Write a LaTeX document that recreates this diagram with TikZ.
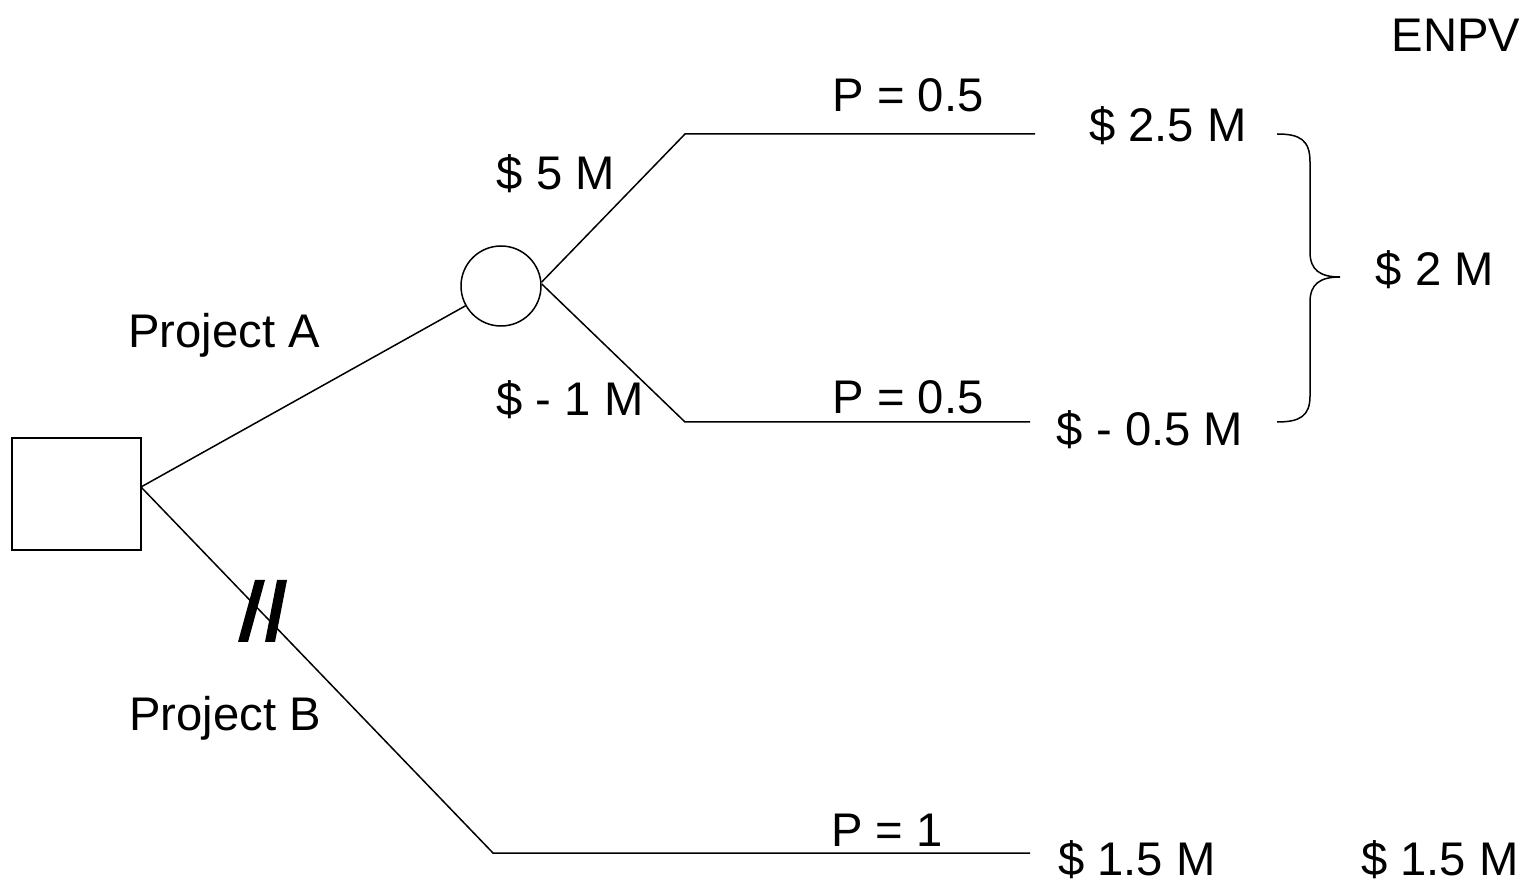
\documentclass[tikz,border=0pt]{standalone}
\usepackage{fontspec}
\setmainfont{Liberation Sans}
\begin{document}
\begin{tikzpicture}[x=0.5pt,y=-0.5pt,
  lbl/.style={inner sep=0pt,anchor=center,font=\fontsize{23.6}{28}\selectfont},
  ln/.style={line width=0.75pt,black},
  markbar/.style={fill=black,draw=none}]
\useasboundingbox (0,0) rectangle (1536,886);
% decision and chance nodes
\node[draw,line width=0.75pt,minimum width=64.5pt,minimum height=56pt,inner sep=0pt] (dec) at (76.5,494) {};
\node[draw,circle,line width=0.75pt,minimum size=40pt,inner sep=0pt] (ch) at (501,286) {};
% coordinates
\coordinate (dout) at (141,487);
\coordinate (ka) at (685,134);
\coordinate (ea) at (1035,134);
\coordinate (kb) at (685,422);
\coordinate (eb) at (1030,422);
\coordinate (kc) at (493,853);
\coordinate (ec) at (1030,853);
% branches
\draw[ln] (dout) -- (ch);
\draw[ln] (ch.east) ++(0,-4) coordinate (cu) (cu) -- (ka) -- (ea);
\draw[ln] (ch.east) ++(0,-2) coordinate (cl) (cl) -- (kb) -- (eb);
\draw[ln] (dout) -- (kc) -- (ec);
% cut mark
\fill[markbar] (255,580) -- (265,580) -- (248,642) -- (238,642) -- cycle;
\fill[markbar] (277,580) -- (287,580) -- (275,642) -- (265,642) -- cycle;
% brace
\draw[ln] (1277,134) .. controls (1300,134) and (1310,140) .. (1310,162) -- (1310,252)
  .. controls (1310,270) and (1320,277) .. (1340,277)
  .. controls (1320,277) and (1310,284) .. (1310,302) -- (1310,396)
  .. controls (1310,416) and (1300,422) .. (1277,422);
% labels
\node[lbl] (enpv) at (1456,35) {ENPV};
\node[lbl] (p1) at (908,95) {P = 0.5};
\node[lbl] (v1) at (1168,126) {\$ 2.5 M};
\node[lbl] (a1) at (556,174) {\$ 5 M};
\node[lbl] (res) at (1435,270) {\$ 2 M};
\node[lbl] (pa) at (224,335) {Project A};
\node[lbl] (a2) at (570,400) {\$ - 1 M};
\node[lbl] (p2) at (908,397) {P = 0.5};
\node[lbl] (v2) at (1150,430) {\$ - 0.5 M};
\node[lbl] (pb) at (225,718) {Project B};
\node[lbl] (p3) at (887,830) {P = 1};
\node[lbl] (v3) at (1137,860) {\$ 1.5 M};
\node[lbl] (res2) at (1440,860) {\$ 1.5 M};
\end{tikzpicture}
\end{document}
